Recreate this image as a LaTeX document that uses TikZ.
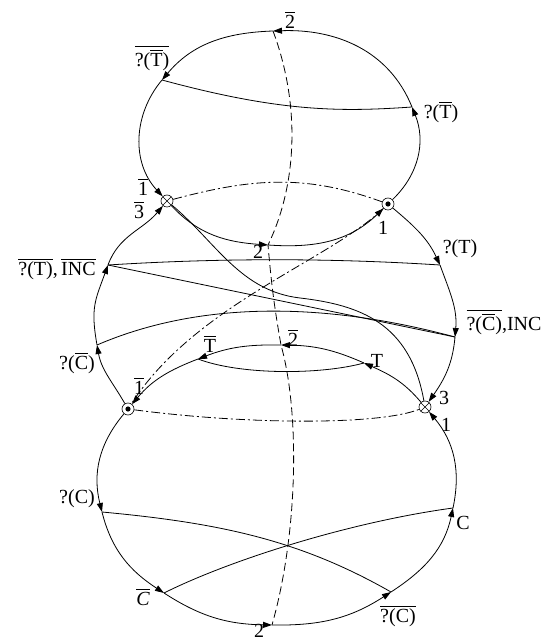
\documentclass[tikz,border=0pt]{standalone}
\usepackage{amsmath}
\usepackage{fontspec}
\setmainfont{Liberation Serif}
\usepackage{tikz}
\usetikzlibrary{arrows.meta}

\newcommand{\ob}[1]{\ensuremath{\overline{\hbox{#1}}}}

\begin{document}
\begin{tikzpicture}[
	x=1pt, y=1pt,
	flow/.style={-{Triangle[length=9pt,width=6pt]}, line width=0.8pt},
	chord/.style={line width=0.8pt},
	seam/.style={line width=0.8pt, dash pattern=on 8pt off 4pt},
	hidden/.style={line width=0.8pt, dash pattern=on 9pt off 3pt on 2pt off 3pt},
	crossmark/.style={circle, draw, line width=0.6pt, minimum size=12pt, inner sep=0pt,
		path picture={\draw[line width=0.6pt]
			(path picture bounding box.north west) -- (path picture bounding box.south east)
			(path picture bounding box.north east) -- (path picture bounding box.south west);}},
	dotmark/.style={circle, draw, line width=0.6pt, minimum size=12pt, inner sep=0pt,
		path picture={\fill (path picture bounding box.center) circle (2.6pt);}},
	lbl/.style={inner sep=0pt, font=\fontsize{20}{22}\selectfont}
]
	\useasboundingbox (0,0) rectangle (548,643);

	% 上椭圆的顶点
	\coordinate (T2b)  at (273,612);
	\coordinate (VTTb) at (162,563);
	\coordinate (B2)   at (268,398);
	\coordinate (VTb)  at (412,536);
	\node[crossmark] (X1) at (167,442) {};
	\node[dotmark]   (D1) at (388,439) {};

	% 中间的顶点
	\coordinate (VL1) at (108,378);
	\coordinate (VL2) at (97,298);
	\coordinate (VR1) at (440,378);
	\coordinate (VR2) at (455,306);
	\coordinate (K)   at (300,345);

	% 下椭圆的顶点
	\node[dotmark]   (D2) at (128,234) {};
	\node[crossmark] (X2) at (425,236) {};
	\coordinate (T)    at (364,280);
	\coordinate (B2t)  at (281,298);
	\coordinate (Tb)   at (198,284);
	\coordinate (VC)   at (102,131);
	\coordinate (Cb)   at (164,50);
	\coordinate (B2b)  at (272,18);
	\coordinate (CCb)  at (391,51);
	\coordinate (C)    at (453,135);

	% 虚线
	\draw[seam] (T2b) .. controls (300,540) and (298,460) .. (B2)
		to[out=-85, in=100] (B2t)
		.. controls (300,230) and (298,110) .. (B2b);

	% 点划线
	\draw[hidden] (X1) to[out=15, in=160] (D1);
	\draw[hidden] (D1) .. controls (330,383) and (195,338) .. (D2);
	\draw[hidden] (D2) .. controls (250,218) and (380,218) .. (X2);

	% 上椭圆
	\draw[flow] (VTb)  to[out=112, in=2]    (T2b);
	\draw[flow] (T2b)  to[out=182, in=50]   (VTTb);
	\draw[flow] (VTTb) to[out=230, in=133]  (X1);
	\draw[flow] (X1)   to[out=-47, in=176]  (B2);
	\draw[flow] (B2)   to[out=-4,  in=224]  (D1);
	\draw[flow] (D1)   to[out=44,  in=-68]  (VTb);
	\draw[chord] (VTb) .. controls (340,531) and (280,531) .. (VTTb);

	% 中间两侧
	\draw[flow] (D2)  to[out=120, in=-80]  (VL2);
	\draw[flow] (VL2) to[out=100, in=-110, looseness=1.2] (VL1);
	\draw[flow] (VL1) to[out=70,  in=-130] (X1);
	\draw[flow] (D1)  to[out=-40, in=115]  (VR1);
	\draw[flow] (VR1) to[out=-70, in=85]   (VR2);
	\draw[flow] (VR2) to[out=-95, in=55]   (X2);

	% 中间的连线
	\draw[chord] (VL1) .. controls (220,385) and (330,385) .. (VR1);
	\draw[chord] (VL1) -- (VR2);
	\draw[chord] (VL2) .. controls (190,338) and (310,345) .. (VR2);
	\draw[chord] (X1) .. controls (216,401) and (240,352) .. (K)
		.. controls (360,338) and (410,320) .. (X2);

	% 下椭圆
	\draw[flow] (X2)  to[out=130, in=-24] (T);
	\draw[flow] (T)   to[out=156, in=-1]  (B2t);
	\draw[flow] (B2t) to[out=179, in=21]  (Tb);
	\draw[flow] (Tb)  to[out=201, in=50]  (D2);
	\draw[flow] (D2)  to[out=230, in=104] (VC);
	\draw[flow] (VC)  to[out=284, in=147] (Cb);
	\draw[flow] (Cb)  to[out=327, in=179] (B2b);
	\draw[flow] (B2b) to[out=-1,  in=213] (CCb);
	\draw[flow] (CCb) to[out=33,  in=258] (C);
	\draw[flow] (C)   to[out=78,  in=-50] (X2);
	\draw[chord] (T) .. controls (320,268) and (240,268) .. (Tb);
	\draw[chord] (VC) .. controls (220,120) and (300,103) .. (CCb);
	\draw[chord] (Cb) .. controls (230,83) and (350,121) .. (C);

	% 标注
	\node[lbl] (l2top)  at (290,623) {\ob{2}};
	\node[lbl] (lqTTb)  at (152,585) {\ob{?(\ob{T})}};
	\node[lbl] (lqTb)   at (441,531) {?(\ob{T})};
	\node[lbl] (l1X1)   at (143,456) {\ob{1}};
	\node[lbl] (l3X1)   at (139,433) {\ob{3}};
	\node[lbl] (l2mid)  at (258,391) {2};
	\node[lbl] (l1D1)   at (383,415) {1};
	\node[lbl] (lqT)    at (460,394) {?(T)};
	\node[lbl] (lqCINC) at (504,321) {\ob{?(\ob{C})},INC};
	\node[lbl] (lqTINC) at (57,374)  {\ob{?(T)},\,\ob{INC}};
	\node[lbl] (lqCb)   at (77,280)  {?(\ob{C})};
	\node[lbl] (l1D2)   at (139,257) {\ob{1}};
	\node[lbl] (lTb)    at (210,299) {\ob{T}};
	\node[lbl] (l2b)    at (293,305) {\ob{2}};
	\node[lbl] (lT)     at (377,282) {T};
	\node[lbl] (l3X2)   at (444,245) {3};
	\node[lbl] (l1X2)   at (446,218) {1};
	\node[lbl] (lqC)    at (77,144)  {?(C)};
	\node[lbl] (lCb)    at (143,46)  {\ob{\itshape C}};
	\node[lbl] (l2bot)  at (259,12)  {2};
	\node[lbl] (lqCC)   at (398,27)  {\ob{?(C)}};
	\node[lbl] (lC)     at (463,120) {C};
\end{tikzpicture}
\end{document}
